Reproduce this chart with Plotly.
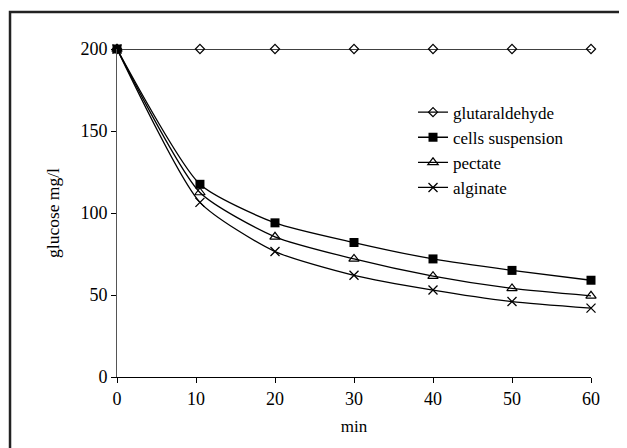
import plotly.graph_objects as go

minutes = [0, 10.5, 20, 30, 40, 50, 60]
glutaraldehyde = [200, 200, 200, 200, 200, 200, 200]
cells_suspension = [200, 117.5, 94, 82, 72, 65, 59]
pectate = [200, 112.5, 85.5, 72, 61.5, 54, 49.5]
alginate = [200, 106.5, 76.5, 62, 53, 46, 42]

series = [
    ("glutaraldehyde", glutaraldehyde, dict(symbol="diamond-open", size=7, color="black", line=dict(width=1.2, color="black"))),
    ("cells suspension", cells_suspension, dict(symbol="square", size=9, color="black")),
    ("pectate", pectate, dict(symbol="triangle-up-open", size=9, color="black", line=dict(width=1.2, color="black"))),
    ("alginate", alginate, dict(symbol="x-thin-open", size=9, color="black", line=dict(width=1.3, color="black"))),
]

fig = go.Figure()
for name, vals, marker in series:
    fig.add_trace(go.Scatter(
        x=minutes, y=vals, name=name, mode="lines+markers",
        line=dict(color="black", width=1.3, shape="spline", smoothing=0.6),
        marker=marker, cliponaxis=False,
    ))

SERIF = "Liberation Serif"
font = dict(family=SERIF, size=18, color="black")

fig.update_layout(
    width=619, height=440,
    margin=dict(l=109, r=36, t=41, b=71),
    paper_bgcolor="white", plot_bgcolor="white",
    font=font,
    showlegend=True,
    legend=dict(x=0.6245, y=0.861, xanchor="left", yanchor="top",
                bgcolor="rgba(0,0,0,0)", font=dict(family=SERIF, size=17, color="black"),
                tracegroupgap=0, itemwidth=30),
    xaxis=dict(range=[0, 60], tickvals=[0, 10, 20, 30, 40, 50, 60],
               showline=True, linecolor="black", linewidth=1,
               ticks="outside", ticklen=5, tickcolor="black",
               tickfont=dict(family=SERIF, size=18, color="black"),
               showgrid=False, zeroline=False,
               title=dict(text="min", standoff=12, font=dict(family=SERIF, size=17, color="black"))),
    yaxis=dict(range=[0, 200], tickvals=[0, 50, 100, 150, 200],
               showline=True, linecolor="#555", linewidth=1,
               ticks="outside", ticklen=5, tickcolor="black",
               tickfont=dict(family=SERIF, size=18, color="black"),
               showgrid=False, zeroline=False,
               title=dict(text="glucose mg/l", standoff=16, font=dict(family=SERIF, size=17.5, color="black"))),
    shapes=[dict(type="rect", xref="paper", yref="paper",
                 x0=-0.2257, x1=1.2, y0=-0.4, y1=1.1128,
                 line=dict(color="#222", width=2.5), layer="below")],
)

fig.write_html("out.html")
